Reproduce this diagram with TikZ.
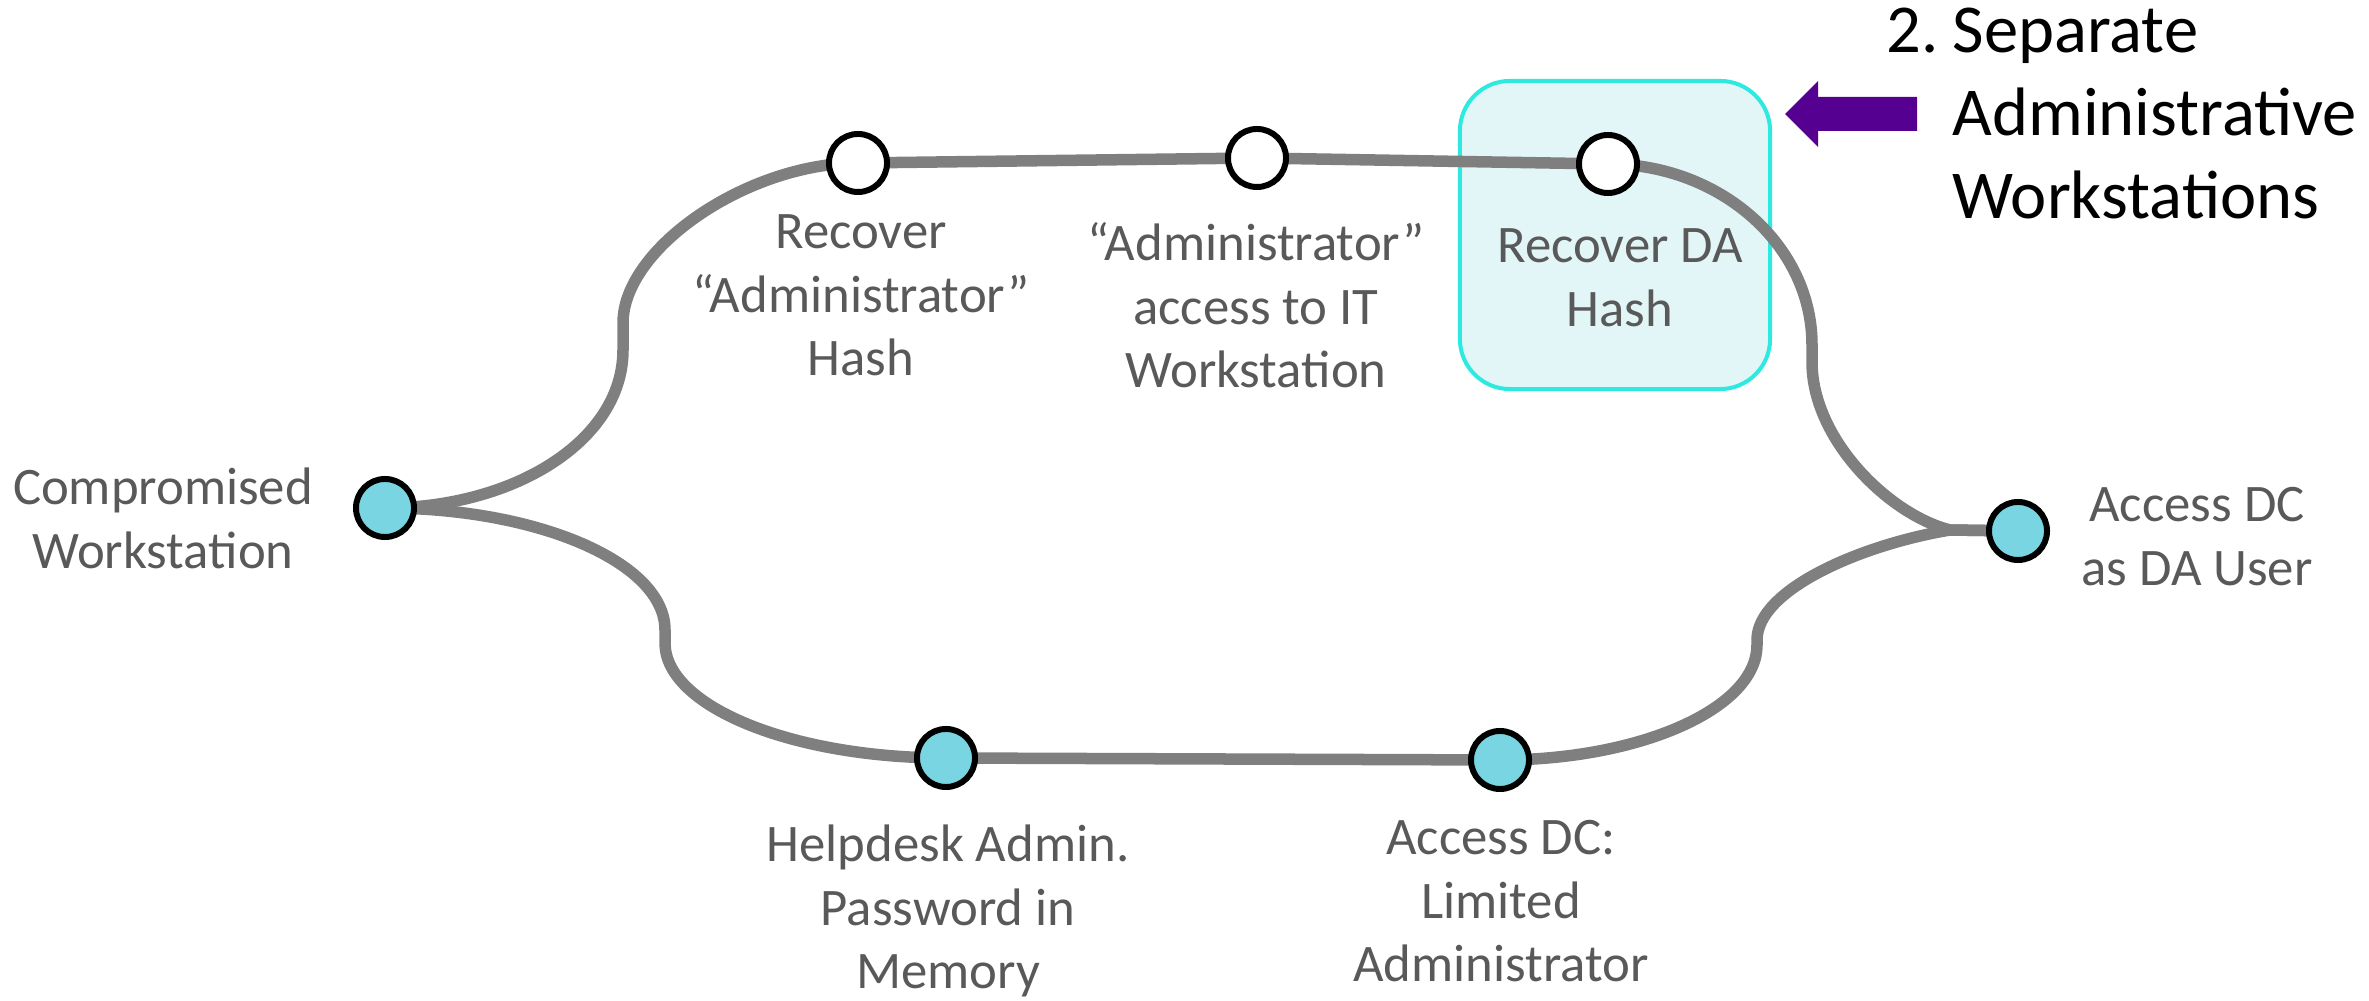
\documentclass[tikz,border=0pt]{standalone}
\usepackage{fontspec}
\setmainfont{Carlito}

\definecolor{linegray}{RGB}{127,127,127}
\definecolor{nodecyan}{RGB}{122,213,226}
\definecolor{textgray}{RGB}{89,89,89}
\definecolor{boxfill}{RGB}{226,246,248}
\definecolor{boxline}{RGB}{46,233,224}
\definecolor{arrowpurple}{RGB}{85,0,145}

\pgfdeclarelayer{back}
\pgfsetlayers{back,main}

\begin{document}
\begin{tikzpicture}[x=0.01cm, y=-0.01cm,
  stage/.style={circle, draw=black, line width=1.7pt, minimum size=0.58cm, inner sep=0pt},
  hot/.style={stage, fill=nodecyan},
  cold/.style={stage, fill=white},
  caption/.style={anchor=base, inner sep=0pt, text=textgray,
    font=\fontsize{15}{18}\selectfont},
  route/.style={draw=linegray, line width=0.115cm, line cap=round, line join=round},
  hlbox/.style={rectangle, rounded corners=0.5cm, draw=boxline, line width=1.14pt,
    fill=boxfill, minimum width=3.1cm, minimum height=3.08cm, inner sep=0pt},
]
\useasboundingbox (0,0) rectangle (2369,1001);

% attack stages
\node[hot]  (cw)  at (385,508)  {};
\node[cold] (ra)  at (858,163)  {};
\node[cold] (ai)  at (1257,158) {};
\node[cold] (rd)  at (1608,164) {};
\node[hot]  (da)  at (2018,531) {};
\node[hot]  (hp)  at (946,758)  {};
\node[hot]  (lim) at (1500,760) {};

% stage captions
\node[caption] (cwL)  at (163,505)  {\begin{tabular}[t]{@{}c@{}}Compromised\\Workstation\end{tabular}};
\node[caption] (raL)  at (861,249)  {\begin{tabular}[t]{@{}c@{}}Recover\\“Administrator”\\Hash\end{tabular}};
\node[caption] (aiL)  at (1256,261) {\begin{tabular}[t]{@{}c@{}}“Administrator”\\access to IT\\Workstation\end{tabular}};
\node[caption] (rdL)  at (1620,263) {\begin{tabular}[t]{@{}c@{}}Recover DA\\Hash\end{tabular}};
\node[caption] (daL)  at (2197,522) {\begin{tabular}[t]{@{}c@{}}Access DC\\as DA User\end{tabular}};
\node[caption] (hpL)  at (948,862)  {\begin{tabular}[t]{@{}c@{}}Helpdesk Admin.\\Password in\\Memory\end{tabular}};
\node[caption] (limL) at (1501,855) {\begin{tabular}[t]{@{}c@{}}Access DC:\\Limited\\Administrator\end{tabular}};

% mitigation note
\node[anchor=base west, inner sep=0pt, font=\fontsize{19.5}{23.5}\selectfont] (note) at (1886,53)
  {\begin{tabular}[t]{@{}l@{}l@{}}\makebox[0.66cm][l]{2.}&Separate\\&Administrative\\&Workstations\end{tabular}};

% bends of the routes
\coordinate (ulA) at (623,350);
\coordinate (ulB) at (623,323);
\coordinate (urA) at (1812,345);
\coordinate (urB) at (1812,362);
\coordinate (llA) at (665,630);
\coordinate (llB) at (665,643);
\coordinate (lrA) at (1757,645);
\coordinate (lrB) at (1757,640);
\coordinate (join) at (1950,530);
\coordinate (ptr) at (1785,114);

\begin{pgfonlayer}{back}
  \node[hlbox] (hl) at (1615,235) {};
  % upper route
  \draw[route] (cw.center) .. controls +(130,0) and +(0,90) .. (ulA) -- (ulB)
    .. controls +(0,-75) and +(-110,0) .. (ra.center);
  \draw[route] (ra.center) -- (ai.center);
  \draw[route] (ai.center) -- (rd.center);
  \draw[route] (rd.center) .. controls +(112,0) and +(0,-100) .. (urA) -- (urB)
    .. controls +(0,78) and +(-60,-15) .. (join) -- (da.center);
  % lower route
  \draw[route] (cw.center) .. controls +(154,0) and +(0,-67) .. (llA) -- (llB)
    .. controls +(0,63) and +(-155,0) .. (hp.center);
  \draw[route] (hp.center) -- (lim.center);
  \draw[route] (lim.center) .. controls +(141,0) and +(0,63) .. (lrA) -- (lrB)
    .. controls +(0,-50) and +(-90,15) .. (join) -- (da.center);
\end{pgfonlayer}

% block arrow pointing at the highlighted stage
\fill[arrowpurple] (ptr) -- ++(33,-33) -- ++(0,16) -- ++(99,0) -- ++(0,34)
  -- ++(-99,0) -- ++(0,16) -- cycle;
\end{tikzpicture}
\end{document}
